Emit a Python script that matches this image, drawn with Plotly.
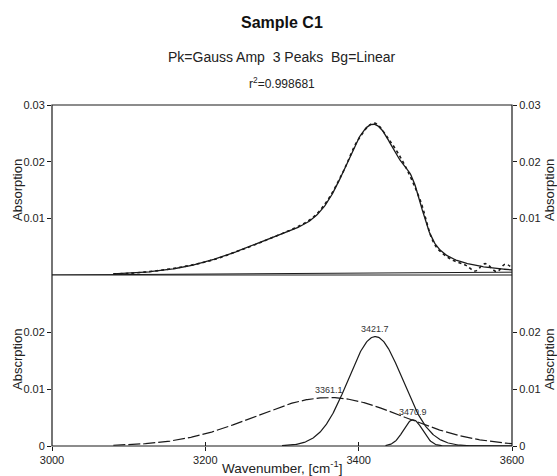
import numpy as np
import plotly.graph_objects as go

wn_data = [3080, 3100, 3120, 3140, 3160, 3180, 3200, 3220, 3240, 3260, 3280,
           3300, 3320, 3340, 3360, 3380, 3400, 3420, 3440, 3460, 3480, 3500,
           3520, 3540, 3552, 3565, 3580, 3591, 3600]
abs_data = [0.0002, 0.0003, 0.0005, 0.0008, 0.0012, 0.0017, 0.0023, 0.0031,
            0.0041, 0.0051, 0.0062, 0.0073, 0.0085, 0.0101, 0.0133, 0.0183,
            0.0240, 0.0268, 0.0238, 0.0194, 0.0133, 0.0052, 0.0028, 0.0017,
            0.0007, 0.0020, 0.0006, 0.0019, 0.0013]

# fitted Gaussian peaks (lower panel)
peak_labels = ["3361.1", "3421.7", "3470.9"]
peak_center = [3361.1, 3421.7, 3470.9]
peak_amp = [0.0085, 0.0192, 0.0046]
peak_sigma = [97.0, 35.5, 12.5]
peak_start = [3080, 3300, 3435]
peak_dash = ["12px,3px", "solid", "solid"]

# linear background
bg_x = [3000, 3600]
bg_y = [0.0, 0.0005]

FONT = "Arial, Liberation Sans, sans-serif"
INK = "#1a1a1a"

x = np.linspace(3000, 3600, 601)
bg = np.interp(x, bg_x, bg_y)
comps = []
for c, a, s in zip(peak_center, peak_amp, peak_sigma):
    comps.append(a * np.exp(-(x - c) ** 2 / (2 * s ** 2)))
fit = bg + sum(comps)

fig = go.Figure()

# upper panel
fig.add_trace(go.Scatter(x=wn_data, y=abs_data, mode="lines", line_shape="spline",
                         line=dict(color=INK, width=1.6, dash="dot"),
                         xaxis="x2", yaxis="y2"))
m = x >= 3080
fig.add_trace(go.Scatter(x=x[m], y=fit[m], mode="lines",
                         line=dict(color=INK, width=1.3),
                         xaxis="x2", yaxis="y2"))
fig.add_trace(go.Scatter(x=bg_x, y=bg_y, mode="lines",
                         line=dict(color=INK, width=1),
                         xaxis="x2", yaxis="y2"))

# lower panel
for i, comp in enumerate(comps):
    mm = x >= peak_start[i]
    fig.add_trace(go.Scatter(x=x[mm], y=comp[mm], mode="lines",
                             line=dict(color=INK, width=1.2, dash=peak_dash[i]),
                             xaxis="x", yaxis="y"))
    fig.add_annotation(x=peak_center[i], y=peak_amp[i], xref="x", yref="y",
                       text=peak_labels[i], showarrow=False, yanchor="bottom",
                       yshift=1, font=dict(size=9, color="#333", family=FONT))

# dummy traces so the right-hand axes are drawn
fig.add_trace(go.Scatter(x=[None], y=[None], xaxis="x", yaxis="y3"))
fig.add_trace(go.Scatter(x=[None], y=[None], xaxis="x2", yaxis="y4"))
fig.add_trace(go.Scatter(x=[None], y=[None], xaxis="x3", yaxis="y"))

split = 171 / 341
tickfont = dict(size=11, color="#222", family=FONT)
yax = dict(range=[0, 0.03], showgrid=False, zeroline=False, ticks="outside",
           ticklen=4, tickcolor=INK, tickfont=tickfont, showline=False,
           automargin=False)

fig.update_layout(
    width=557, height=476,
    margin=dict(l=52, r=45, t=105, b=30),
    paper_bgcolor="white", plot_bgcolor="white",
    showlegend=False,
    font=dict(family=FONT, color="#222"),
    xaxis=dict(domain=[0, 1], anchor="y", range=[3000, 3600],
               tickvals=[3000, 3200, 3400, 3600], ticks="outside", ticklen=4,
               tickcolor=INK, tickfont=tickfont, showgrid=False, zeroline=False,
               automargin=False),
    xaxis2=dict(domain=[0, 1], anchor="y2", range=[3000, 3600], automargin=False,
                showticklabels=False, ticks="", showgrid=False, zeroline=False),
    xaxis3=dict(overlaying="x", anchor="y", range=[3000, 3600], automargin=False,
                tickvals=[3000, 3200, 3400, 3600], ticks="inside", ticklen=4,
                tickcolor=INK, showticklabels=False, showgrid=False, zeroline=False),
    yaxis=dict(yax, domain=[0, split], anchor="x",
               tickvals=[0, 0.01, 0.02], ticktext=["0", "0.01", "0.02"]),
    yaxis2=dict(yax, domain=[split, 1], anchor="x2",
                tickvals=[0.01, 0.02, 0.03], ticktext=["0.01", "0.02", "0.03"]),
    yaxis3=dict(yax, overlaying="y", side="right", anchor="x",
                tickvals=[0, 0.01, 0.02], ticktext=["0", "0.01", "0.02"]),
    yaxis4=dict(yax, overlaying="y2", side="right", anchor="x2",
                tickvals=[0.01, 0.02, 0.03], ticktext=["0.01", "0.02", "0.03"]),
)

# frame and panel divider
fig.add_shape(type="rect", xref="paper", yref="paper", x0=0, x1=1, y0=0, y1=1,
              line=dict(color=INK, width=1.2))
fig.add_shape(type="line", xref="paper", yref="paper", x0=0, x1=1, y0=split, y1=split,
              line=dict(color=INK, width=1.2))


# pixel -> paper helpers (plot area spans x 52..512, y 105..446)
def py(p):
    return (446 - p) / 341


def px(p):
    return (p - 52) / 460


def label(text, xpix, ypix, size, angle=0, color="#222"):
    fig.add_annotation(text=text, xref="paper", yref="paper", x=px(xpix), y=py(ypix),
                       xanchor="center", yanchor="middle", showarrow=False,
                       textangle=angle, font=dict(size=size, color=color, family=FONT))


# titles
label("<b>Sample C1</b>", 282, 22, 16, color="#111")
label("Pk=Gauss Amp  3 Peaks  Bg=Linear", 282, 57, 14)
label("r<sup>2</sup>=0.998681", 282, 83, 12)

# axis titles
label("Wavenumber, [cm<sup>-1</sup>]", 282, 467, 13.5)
for text, ypix in [("Absorption", 190), ("Abscrption", 360)]:
    for xpix in [17, 549]:
        label(text, xpix, ypix, 13, angle=-90)

# drop the default page margin so the figure sits at the window corner
fig.write_html("out.html", config={"displayModeBar": False},
               post_script="document.body.style.margin='0';"
                           "document.body.style.overflow='hidden';")
